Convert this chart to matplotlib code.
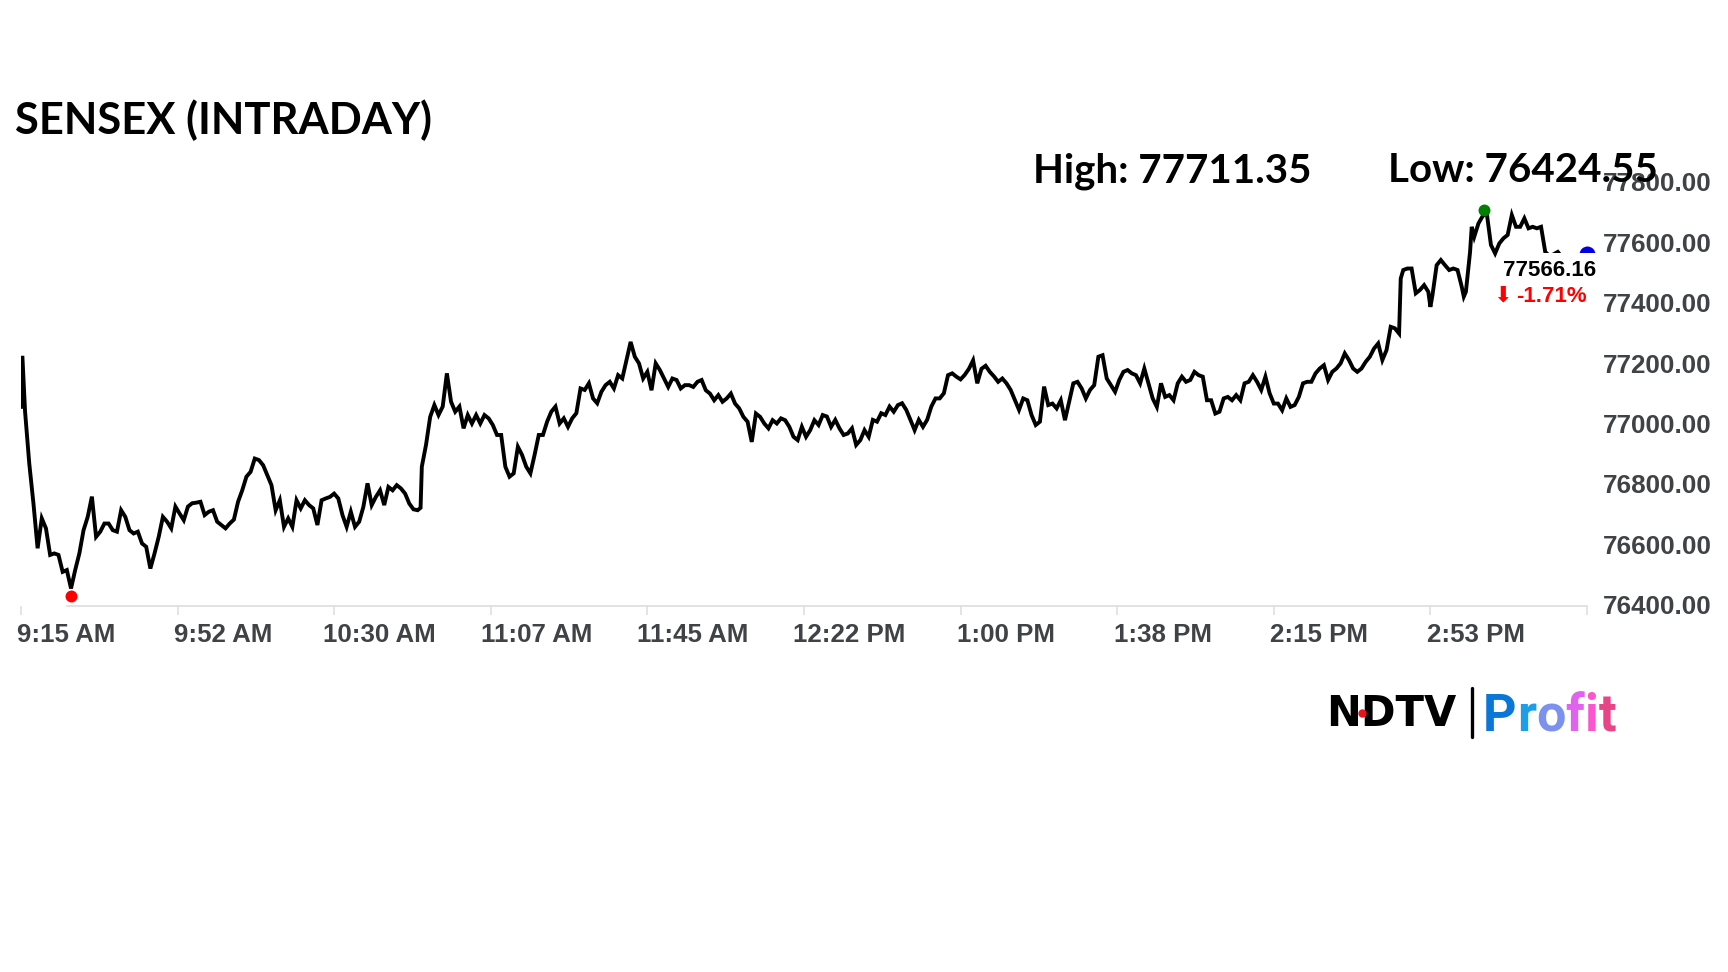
import numpy as np
import matplotlib
matplotlib.use('Agg')
import matplotlib.pyplot as plt
from matplotlib.patches import Rectangle
from matplotlib.transforms import ScaledTranslation

# Sensex prices, one value a minute from 9:15 AM
prices_0915 = [
    77059, 77043, 76872, 76740, 76591, 76690, 76657, 76569,
    76574, 76569, 76513, 76519, 76458, 76519, 76574, 76651,
    76695, 76762, 76629, 76646, 76673, 76673, 76651, 76646,
    76717, 76695, 76651, 76640, 76646, 76607, 76596, 76524,
    76574, 76629, 76695, 76679, 76657, 76729, 76706, 76684,
    76729, 76740, 76742, 76745, 76701, 76712, 76717, 76679]
prices_1003 = [
    76668, 76657, 76673, 76686, 76745, 76783, 76828, 76844,
    76888, 76883, 76866, 76833, 76800, 76717, 76750, 76662,
    76690, 76662, 76750, 76723, 76750, 76734, 76723, 76668,
    76750, 76756, 76761, 76772, 76756, 76701, 76662, 76712,
    76662, 76679, 76728, 76806, 76734, 76761, 76783, 76734,
    76794, 76783, 76800, 76789, 76772, 76739, 76720, 76717]
prices_1051 = [
    76861, 76933, 77026, 77065, 77032, 77060, 77170, 77076,
    77043, 77060, 76988, 77032, 77004, 77032, 77004, 77032,
    77021, 76999, 76966, 76966, 76861, 76828, 76839, 76927,
    76900, 76861, 76839, 76900, 76966, 76966, 77010, 77043,
    77060, 77004, 77021, 76993, 77021, 77038, 77120, 77115,
    77137, 77087, 77071, 77109, 77131, 77142, 77120, 77164]
prices_1139 = [
    77153, 77214, 77274, 77225, 77203, 77153, 77175, 77114,
    77203, 77181, 77153, 77125, 77153, 77148, 77120, 77131,
    77131, 77125, 77142, 77148, 77114, 77103, 77081, 77098,
    77076, 77087, 77103, 77070, 77054, 77026, 77010, 76943,
    77037, 77026, 77004, 76988, 77015, 77004, 77021, 77015,
    76993, 76960, 76949, 76993, 76960, 76982, 77015, 76999]
prices_1227 = [
    77032, 77027, 76993, 77016, 76988, 76966, 76971, 76988,
    76933, 76949, 76982, 76960, 77016, 77010, 77038, 77032,
    77060, 77043, 77065, 77071, 77049, 77016, 76982, 77016,
    76993, 77016, 77060, 77087, 77087, 77104, 77164, 77170,
    77159, 77150, 77165, 77185, 77213, 77137, 77185, 77195,
    77175, 77160, 77142, 77153, 77137, 77115, 77082, 77049]
prices_1315 = [
    77087, 77081, 77032, 76999, 77010, 77126, 77065, 77070,
    77054, 77081, 77015, 77076, 77137, 77142, 77120, 77087,
    77115, 77131, 77225, 77230, 77153, 77131, 77109, 77148,
    77175, 77181, 77170, 77164, 77137, 77186, 77137, 77087,
    77059, 77137, 77092, 77098, 77081, 77137, 77159, 77142,
    77148, 77175, 77164, 77159, 77081, 77081, 77037, 77043]
prices_1403 = [
    77087, 77092, 77081, 77098, 77081, 77137, 77142, 77164,
    77142, 77115, 77159, 77104, 77070, 77070, 77048, 77087,
    77059, 77065, 77092, 77137, 77142, 77142, 77170, 77186,
    77197, 77148, 77175, 77186, 77203, 77236, 77214, 77186,
    77175, 77186, 77208, 77225, 77252, 77269, 77214, 77247]
prices_1443 = [
    77324, 77319, 77302, 77512, 77517, 77517, 77435, 77446,
    77462, 77440, 77429, 77528, 77545, 77528, 77512, 77517,
    77512, 77457, 77440, 77572, 77622, 77666, 77690, 77700,
    77595, 77567, 77600, 77617, 77628, 77694, 77655, 77655,
    77683, 77650, 77655, 77650, 77655, 77572, 77558, 77564,
    77572, 77555, 77540, 77548, 77560, 77552, 77560, 77566.16]

# sharp moves between two whole minutes
spike_minutes = [0.35, 95.7, 330.4, 337.5, 345.5, 347.4]
spike_prices = [77228, 76725, 77484, 77390, 77424, 77655]

tick_minutes = [0, 37.5, 75, 112.5, 150, 187.5, 225, 262.5, 300, 337.5, 375]
tick_labels = ['9:15 AM', '9:52 AM', '10:30 AM', '11:07 AM', '11:45 AM', '12:22 PM',
               '1:00 PM', '1:38 PM', '2:15 PM', '2:53 PM', '']
price_ticks = [76400, 76600, 76800, 77000, 77200, 77400, 77600, 77800]

low_minute, low_price = 11.9, 76434
high_minute, high_price = 350.4, 77711.35
last_minute, last_price = 375, 77566.16

profit_letters = ['P', 'r', 'o', 'f', 'i', 't']
profit_colors = ['#0a76d8', '#1c9fe8', '#7c90f0', '#e063ef', '#fb55cf', '#ea4488']

W, H = 1728, 972
ARIAL = 'Liberation Sans'
GREY = '#3f4346'


def fx(px):
    return px / W


def fy(py):
    return 1 - py / H


prices = prices_0915 + prices_1003 + prices_1051 + prices_1139 + prices_1227 + prices_1315 + prices_1403 + prices_1443
minutes = list(range(len(prices))) + spike_minutes
prices = prices + spike_prices
order = np.argsort(minutes)
minutes = np.array(minutes)[order]
prices = np.array(prices)[order]

fig = plt.figure(figsize=(W / 100, H / 100), dpi=100)
ax = fig.add_axes([fx(20.9), fy(606), (1587 - 20.9) / W, (606 - 183) / H])
ax.patch.set_alpha(0)

ax.plot(minutes, prices, color='black', lw=2.8, solid_joinstyle='miter', zorder=3)
ax.plot(low_minute, low_price, 'o', color='#ff0000', ms=8.6, mew=0, zorder=4, clip_on=False)
ax.plot(high_minute, high_price, 'o', color='#008000', ms=8.6, mew=0, zorder=4, clip_on=False)
ax.plot(last_minute, last_price, 'o', color='#0000e0', ms=11.5, mew=0, zorder=4, clip_on=False)

ax.set_xlim(0, 375)
ax.set_ylim(76400, 77800)
for side in ['top', 'left', 'right']:
    ax.spines[side].set_visible(False)
ax.spines['bottom'].set_color('#dddddd')
ax.spines['bottom'].set_linewidth(1.2)
ax.spines['bottom'].set_bounds(11, 375)

ax.set_xticks(tick_minutes)
ax.set_xticklabels(tick_labels, fontfamily=ARIAL, fontweight='bold', fontsize=18.6, color=GREY)
ax.tick_params(axis='x', length=6.5, width=1.1, color='#dddddd', pad=6)
# labels sit to the right of their ticks
shift = ScaledTranslation(45.5 / 100, 0, fig.dpi_scale_trans)
for lab in ax.get_xticklabels():
    lab.set_transform(lab.get_transform() + shift)

ax.yaxis.tick_right()
ax.set_yticks(price_ticks)
ax.set_yticklabels(['%.2f' % p for p in price_ticks], fontfamily=ARIAL, fontweight='bold', fontsize=18.7, color=GREY)
ax.tick_params(axis='y', length=0, pad=11.5)
up = ScaledTranslation(0, 1.2 / 100, fig.dpi_scale_trans)
for lab in ax.get_yticklabels():
    lab.set_transform(lab.get_transform() + up)

# label box hides the end of the line
fig.add_artist(Rectangle((fx(1498), fy(310)), 100 / W, 57 / H, transform=fig.transFigure,
                         facecolor='white', edgecolor='none', zorder=5))
fig.text(fx(1550), fy(271), '77566.16', family=ARIAL, weight='bold', fontsize=16,
         color='black', ha='center', va='center', zorder=6)
fig.text(fx(1551), fy(296), '-1.71%', family=ARIAL, weight='bold', fontsize=16,
         color='#ff0000', ha='center', va='center', zorder=6)
fig.text(fx(1503), fy(295), '\u2b07', family='DejaVu Sans', fontsize=16,
         color='#ff0000', ha='center', va='center', zorder=6)

fig.text(fx(15), fy(120), 'SENSEX (INTRADAY)', family='Lato', weight='bold', fontsize=31.3,
         color='black', ha='left', va='center', zorder=6)
fig.text(fx(1033), fy(171), 'High: 77711.35', family='Lato', weight='bold', fontsize=29,
         color='black', ha='left', va='center', zorder=6)
fig.text(fx(1388), fy(171), 'Low: 76424.55', family='Lato', weight='bold', fontsize=29,
         color='black', ha='left', va='center', zorder=6)

# NDTV Profit logo
fig.text(fx(1326), fy(726), 'NDTV', family='DejaVu Sans', weight='bold', fontsize=30,
         color='black', ha='left', va='baseline', zorder=6)
fig.add_artist(plt.Line2D([fx(1472), fx(1472)], [fy(688), fy(737)], color='black', lw=2.4,
                          solid_capstyle='round', transform=fig.transFigure, zorder=6))
fig.add_artist(plt.Line2D([fx(1362)], [fy(713)], marker='o', ms=6, mew=0, color='#e8141c',
                          transform=fig.transFigure, zorder=7))
renderer = fig.canvas.get_renderer()
x_pos = 1483
for letter, colour in zip(profit_letters, profit_colors):
    t = fig.text(fx(x_pos), fy(731), letter, family='Roboto', weight='bold', fontsize=37.5,
                 color=colour, ha='left', va='baseline', zorder=6)
    x_pos = t.get_window_extent(renderer).x1 + 0.2

fig.savefig('out.png', dpi=100)
